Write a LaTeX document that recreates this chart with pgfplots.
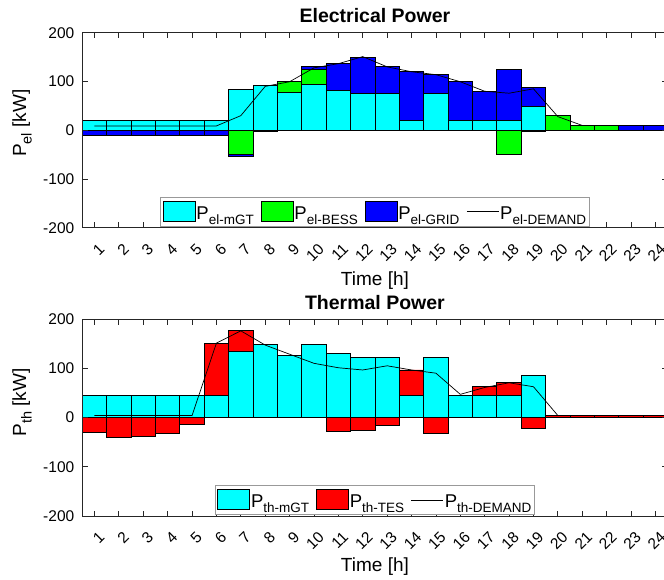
\documentclass[border=0pt]{standalone}
\usepackage{pgfplots}
\usepackage{pgfplotstable}
\pgfplotsset{compat=1.18}
\usepackage{fontspec}
\setmainfont{Liberation Sans}

\definecolor{mgt}{rgb}{0,1,1}
\definecolor{bess}{rgb}{0,1,0}
\definecolor{grid}{rgb}{0,0,1}
\definecolor{tes}{rgb}{1,0,0}

% subscripts the way the original sets them
\newcommand{\lsub}[1]{\raisebox{-5pt}{\fontsize{13.5}{14}\selectfont #1}}
\newcommand{\ysub}[1]{\raisebox{-5.5pt}{\fontsize{14.5}{15}\selectfont #1}}

% electrical power per hour, positive and negative parts stacked apart
\pgfplotstableread{
h  mgt   bessp gridp bessn gridn dem
1  20    0     0     0     -11   9
2  20    0     0     0     -11   9
3  20    0     0     0     -11   9
4  20    0     0     0     -11   9
5  20    0     0     0     -11   9
6  20    0     0     0     -11   9
7  84    0     0     -50   -4    30
8  91    0     1.5   -2.5  0     90
9  78    22    0     0     0     99.5
10 94    30.5  5.5   0     0     128
11 81    0     55    0     0     136.5
12 76    0     74    0     0     151
13 76    0     54    0     0     130
14 20    0     100   0     0     120
15 75    0     40    0     0     114
16 20    0     80    0     0     99.5
17 20    0     59    0     0     80
18 20    0     105   -50   0     76
19 48    0     40    -2.5  0     85
20 0     30    0     0     0     28
21 0     10    0     0     0     10
22 0     10    0     0     0     10
23 0     0     10    0     0     10
24 0     0     10    0     0     10
}\eldata

% thermal power per hour
\pgfplotstableread{
h  mgt   tesp  tesn  dem
1  45    0     -30.5 4
2  45    0     -40   4
3  45    0     -38   4
4  45    0     -33   4
5  45    0     -15   4
6  45    106   0     151
7  135   41    0     176
8  148   0     0     147
9  126.5 0     0     128.5
10 149   0     0     110
11 130.5 0     -28.5 101
12 122.5 0     -26   96.5
13 122.5 0     -17   105
14 44    52.5  0     96.5
15 122   0     -32.5 90
16 45.5  0     0     47
17 44    18.5  0     61
18 44    27.5  0     70.5
19 85    0     -22   62.5
20 0     4     0     4
21 0     4     0     4
22 0     4     0     4
23 0     4     0     4
24 0     4     0     4
}\thdata

\pgfplotsset{
  panel/.style={scale only axis, width=585.3pt, anchor=south west,
    xmin=0.5, xmax=24.5, ymin=-200, ymax=200},
  barpanel/.style={panel, hide axis, ybar stacked, bar width=1},
  bar/.style={draw=black, line width=0.9pt, fill=#1},
  barleg/.style={legend image code/.code={%
    \draw[draw=black, line width=0.6pt, fill=#1] (0pt,-7pt) rectangle (32pt,13pt);}},
  demand/.style={black, line width=0.7pt, mark=none,
    legend image code/.code={\draw[black, line width=0.7pt] (0pt,2pt) -- (32pt,2pt);}},
  mainpanel/.style={panel,
    axis line style={black!85, line width=0.8pt},
    tick style={black!85, line width=0.8pt},
    major tick length=5.5pt,
    xtick={1,...,24}, ytick={-200,-100,0,100,200},
    tick label style={font=\fontsize{15.5}{17}\selectfont},
    /pgf/number format/assume math mode=true,
    xticklabel style={xshift=8pt, yshift=-18pt, rotate=45, anchor=east, inner sep=1pt},
    yticklabel style={xshift=-4.5pt},
    title style={font=\bfseries\fontsize{19.5}{22}\selectfont},
    label style={font=\fontsize{19}{21}\selectfont},
    xlabel={Time [h]},
    legend cell align=left,
    legend style={at={(0.5,0.008)}, anchor=south, draw=black!40, line width=0.8pt,
      inner xsep=2pt, inner ysep=3pt, font=\fontsize{18.5}{20}\selectfont,
      nodes={inner xsep=1pt, inner ysep=2pt},
      /tikz/every even column/.append style={column sep=6pt}},
  },
}

\begin{document}
\begin{tikzpicture}
% ---- electrical power ----
\begin{axis}[barpanel, at={(82.3pt,351.1pt)}, height=195.2pt]
\addplot[bar=bess] table[x=h,y=bessn]{\eldata};
\addplot[bar=grid] table[x=h,y=gridn]{\eldata};
\end{axis}
\begin{axis}[barpanel, at={(82.3pt,351.1pt)}, height=195.2pt]
\addplot[bar=mgt]  table[x=h,y=mgt]{\eldata};
\addplot[bar=bess] table[x=h,y=bessp]{\eldata};
\addplot[bar=grid] table[x=h,y=gridp]{\eldata};
\end{axis}
\begin{axis}[mainpanel, at={(82.3pt,351.1pt)}, height=195.2pt,
  title={Electrical Power},
  ylabel={P\ysub{el} [kW]},
  ylabel style={at={(axis description cs:-0.103,0.536)}, anchor=center},
  xlabel style={at={(axis description cs:0.5,0)}, anchor=center, yshift=-53pt},
  legend columns=4]
\addlegendimage{barleg=mgt}
\addlegendentry{P\lsub{el-mGT}}
\addlegendimage{barleg=bess}
\addlegendentry{P\lsub{el-BESS}}
\addlegendimage{barleg=grid}
\addlegendentry{P\lsub{el-GRID}}
\addplot[demand] table[x=h,y=dem]{\eldata};
\addlegendentry{P\lsub{el-DEMAND}}
\end{axis}

% ---- thermal power ----
\begin{axis}[barpanel, at={(82.3pt,63pt)}, height=197pt]
\addplot[bar=tes] table[x=h,y=tesn]{\thdata};
\end{axis}
\begin{axis}[barpanel, at={(82.3pt,63pt)}, height=197pt]
\addplot[bar=mgt] table[x=h,y=mgt]{\thdata};
\addplot[bar=tes] table[x=h,y=tesp]{\thdata};
\end{axis}
\begin{axis}[mainpanel, at={(82.3pt,63pt)}, height=197pt,
  title={Thermal Power},
  ylabel={P\ysub{th} [kW]},
  ylabel style={at={(axis description cs:-0.103,0.576)}, anchor=center},
  xlabel style={at={(axis description cs:0.5,0)}, anchor=center, yshift=-51pt},
  legend columns=3]
\addlegendimage{barleg=mgt}
\addlegendentry{P\lsub{th-mGT}}
\addlegendimage{barleg=tes}
\addlegendentry{P\lsub{th-TES}}
\addplot[demand] table[x=h,y=dem]{\thdata};
\addlegendentry{P\lsub{th-DEMAND}}
\end{axis}

\pgfresetboundingbox
\useasboundingbox (0,0) rectangle (664pt,579pt);
\end{tikzpicture}
\end{document}
